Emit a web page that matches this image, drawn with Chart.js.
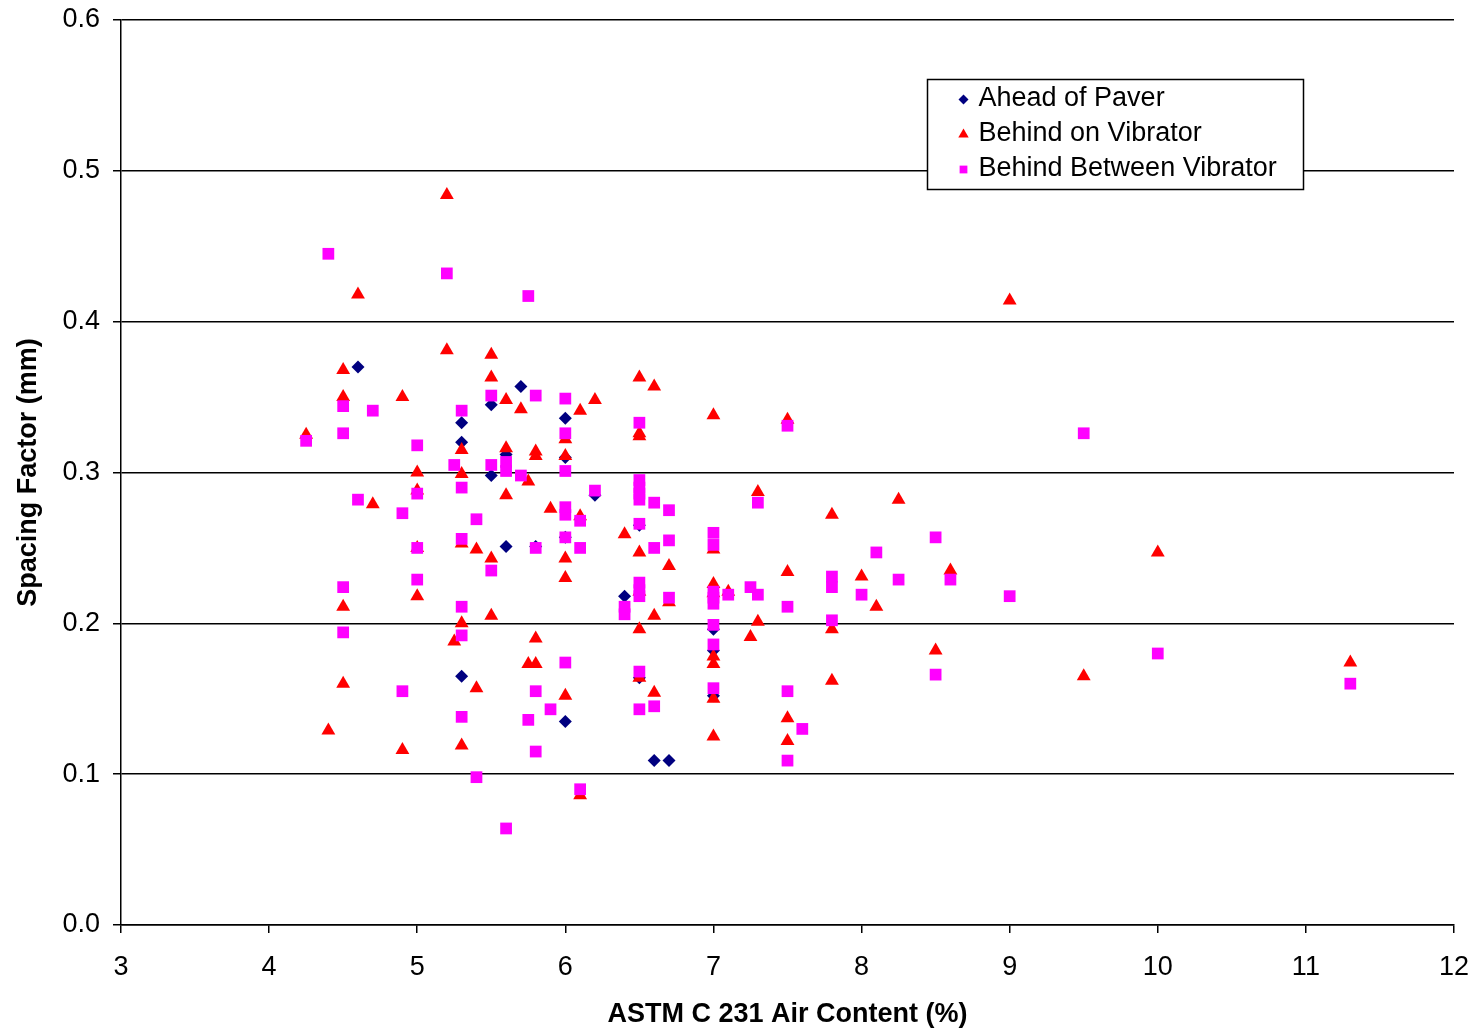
<!DOCTYPE html>
<html>
<head>
<meta charset="utf-8">
<script src="https://cdn.jsdelivr.net/npm/chart.js@4/dist/chart.umd.min.js"></script>
<style>
  html, body { margin: 0; padding: 0; background: #fff; }
  #wrap { width: 1482px; height: 1029px; position: relative; }
</style>
</head>
<body>
<div id="wrap"><canvas id="c" width="1482" height="1029"></canvas></div>
<script>
// ---- Data ----
const seriesNames = ["Ahead of Paver", "Behind on Vibrator", "Behind Between Vibrator"];

const aheadX = [4.6, 5.3, 5.3, 5.5, 5.5, 5.7, 6.0, 5.6, 5.8, 6.2, 6.4, 6.5, 5.3, 6.0, 6.6, 6.7, 7.0, 7.0, 7.0, 6.0, 5.6, 6.0, 6.5];
const aheadY = [0.370, 0.333, 0.320, 0.345, 0.298, 0.357, 0.336, 0.251, 0.251, 0.285, 0.218, 0.265, 0.165, 0.135, 0.109, 0.109, 0.196, 0.182, 0.152, 0.310, 0.312, 0.257, 0.164];

const onVibX = [4.25, 4.4, 4.5, 4.5, 4.5, 4.5, 4.6, 4.7, 4.9, 4.9, 5.0, 5.0, 5.0, 5.0, 5.2, 5.2, 5.25, 5.3, 5.3, 5.3, 5.3, 5.3, 5.4, 5.4,
  5.5, 5.5, 5.5, 5.5, 5.6, 5.6, 5.6, 5.7, 5.75, 5.75, 5.8, 5.8, 5.8, 5.8, 5.9, 6.0, 6.0, 6.0, 6.0, 6.0, 6.1, 6.1, 6.1, 6.2, 6.4,
  6.5, 6.5, 6.5, 6.5, 6.5, 6.5, 6.5, 6.6, 6.6, 6.6, 6.7, 6.7, 7.0, 7.0, 7.0, 7.0, 7.0, 7.0, 7.0, 7.0, 7.1, 7.25, 7.3, 7.3,
  7.5, 7.5, 7.5, 7.5, 7.8, 7.8, 7.8, 8.0, 8.1, 8.25, 8.5, 8.6, 9.0, 9.5, 10.0, 11.3];
const onVibY = [0.325, 0.129, 0.368, 0.350, 0.211, 0.160, 0.418, 0.279, 0.350, 0.116, 0.300, 0.288, 0.250, 0.218, 0.484, 0.381, 0.188, 0.315, 0.299, 0.253, 0.200, 0.119, 0.249, 0.157,
  0.378, 0.363, 0.243, 0.205, 0.348, 0.316, 0.285, 0.342, 0.294, 0.173, 0.173, 0.314, 0.311, 0.190, 0.276, 0.322, 0.311, 0.243, 0.230, 0.152, 0.341, 0.271, 0.086, 0.348, 0.259,
  0.363, 0.326, 0.324, 0.247, 0.221, 0.196, 0.164, 0.357, 0.205, 0.154, 0.238, 0.214, 0.338, 0.249, 0.226, 0.220, 0.178, 0.173, 0.150, 0.125, 0.221, 0.191, 0.287, 0.201,
  0.335, 0.234, 0.137, 0.122, 0.272, 0.196, 0.162, 0.231, 0.211, 0.282, 0.182, 0.235, 0.414, 0.165, 0.247, 0.174];

const betweenX = [4.25, 4.4, 4.5, 4.5, 4.5, 4.5, 4.6, 4.7, 4.9, 4.9, 5.0, 5.0, 5.0, 5.0, 5.2, 5.25, 5.3, 5.3, 5.3, 5.3, 5.3, 5.3, 5.4, 5.4,
  5.5, 5.5, 5.5, 5.6, 5.6, 5.6, 5.7, 5.75, 5.75, 5.8, 5.8, 5.8, 5.8, 5.9, 6.0, 6.0, 6.0, 6.0, 6.0, 6.0, 6.0, 6.1, 6.1, 6.1, 6.2,
  6.4, 6.4, 6.5, 6.5, 6.5, 6.5, 6.5, 6.5, 6.5, 6.5, 6.5, 6.5, 6.5, 6.6, 6.6, 6.6, 6.7, 6.7, 6.7,
  7.0, 7.0, 7.0, 7.0, 7.0, 7.0, 7.0, 7.0, 7.1, 7.25, 7.3, 7.3, 7.5, 7.5, 7.5, 7.5, 7.6, 7.8, 7.8, 7.8, 8.0, 8.1, 8.25,
  8.5, 8.5, 8.6, 9.0, 9.5, 10.0, 11.3];
const betweenY = [0.321, 0.445, 0.344, 0.326, 0.224, 0.194, 0.282, 0.341, 0.273, 0.155, 0.318, 0.286, 0.250, 0.229, 0.432, 0.305, 0.341, 0.290, 0.256, 0.211, 0.192, 0.138, 0.269, 0.098,
  0.351, 0.305, 0.235, 0.307, 0.301, 0.064, 0.298, 0.417, 0.136, 0.351, 0.250, 0.155, 0.115, 0.143, 0.349, 0.326, 0.301, 0.277, 0.272, 0.257, 0.174, 0.268, 0.250, 0.090, 0.288,
  0.211, 0.206, 0.333, 0.295, 0.290, 0.286, 0.282, 0.266, 0.227, 0.222, 0.218, 0.168, 0.143, 0.280, 0.250, 0.145, 0.275, 0.255, 0.217,
  0.260, 0.252, 0.221, 0.217, 0.213, 0.199, 0.186, 0.157, 0.219, 0.224, 0.280, 0.219, 0.331, 0.211, 0.155, 0.109, 0.130, 0.231, 0.224, 0.202, 0.219, 0.247, 0.229,
  0.257, 0.166, 0.229, 0.218, 0.326, 0.180, 0.160];

const xTickMin = 3, xTickMax = 12, xTickStep = 1;
const yTickMin = 0, yTickMax = 0.6, yTickStep = 0.1;
const xTitle = "ASTM C 231 Air Content (%)";
const yTitle = "Spacing Factor (mm)";

// ---- Build ----
function pts(xs, ys) { return xs.map((x, i) => ({ x: x, y: ys[i] })); }

const FONT = "'Liberation Sans', Arial, sans-serif";

const legendBox = {
  id: 'legendBox',
  afterDraw(chart) {
    const ctx = chart.ctx;
    const x0 = 927.5, y0 = 79.5, w = 376, h = 110;
    ctx.save();
    ctx.fillStyle = '#fff';
    ctx.fillRect(x0, y0, w, h);
    ctx.strokeStyle = '#000';
    ctx.lineWidth = 1.5;
    ctx.strokeRect(x0, y0, w, h);
    ctx.font = "27px " + FONT;
    ctx.textBaseline = 'middle';
    ctx.textAlign = 'left';
    const radii = [5, 6, 5.5];
    chart.data.datasets.forEach((ds, i) => {
      const cy = y0 + 19 + i * 35;
      ctx.fillStyle = ds.backgroundColor;
      ctx.strokeStyle = ds.borderColor;
      Chart.helpers.drawPoint(ctx, { pointStyle: ds.pointStyle, radius: radii[i], rotation: 0, borderWidth: 0 }, x0 + 36, cy + 1);
      ctx.fillStyle = '#000';
      ctx.fillText(ds.label, x0 + 51, cy);
    });
    ctx.restore();
  }
};

new Chart(document.getElementById('c'), {
  type: 'scatter',
  data: {
    datasets: [
      { label: seriesNames[0], data: pts(aheadX, aheadY), pointStyle: 'rectRot', pointRadius: 6.5,
        backgroundColor: '#000080', borderColor: '#000080', borderWidth: 0, order: 2 },
      { label: seriesNames[1], data: pts(onVibX, onVibY), pointStyle: 'triangle', pointRadius: 8,
        backgroundColor: '#ff0000', borderColor: '#ff0000', borderWidth: 0, order: 1 },
      { label: seriesNames[2], data: pts(betweenX, betweenY), pointStyle: 'rect', pointRadius: 8.3,
        backgroundColor: '#ff00ff', borderColor: '#ff00ff', borderWidth: 0, order: 0 }
    ]
  },
  options: {
    responsive: false,
    animation: false,
    events: [],
    layout: { padding: { top: 20, right: 28, left: 0, bottom: 0 } },
    plugins: {
      legend: { display: false },
      tooltip: { enabled: false }
    },
    scales: {
      x: {
        type: 'linear',
        min: xTickMin, max: xTickMax,
        afterFit(scale) { scale.height = 104; scale.paddingLeft = 0; scale.paddingRight = 0; },
        ticks: { stepSize: xTickStep, color: '#000', font: { family: FONT, size: 27 }, padding: 18, maxRotation: 0 },
        grid: { drawOnChartArea: false, drawTicks: true, tickLength: 8, color: '#000', lineWidth: 1.5 },
        border: { display: true, color: '#000', width: 1.5 },
        title: { display: true, text: xTitle, color: '#000', font: { family: FONT, size: 27, weight: 'bold' }, padding: { top: 0, bottom: -2 } }
      },
      y: {
        type: 'linear',
        min: yTickMin, max: yTickMax,
        afterFit(scale) { scale.width = 121; scale.paddingTop = 0; scale.paddingBottom = 0; },
        ticks: { stepSize: yTickStep, color: '#000', font: { family: FONT, size: 27 }, padding: 13,
          callback: v => Number(v).toFixed(1) },
        grid: { drawOnChartArea: true, drawTicks: true, tickLength: 8, color: '#000', lineWidth: 1.5 },
        border: { display: true, color: '#000', width: 1.5 },
        title: { display: true, text: yTitle, color: '#000', font: { family: FONT, size: 27, weight: 'bold' }, padding: { top: 12, bottom: 0 } }
      }
    }
  },
  plugins: [legendBox]
});
</script>
</body>
</html>
